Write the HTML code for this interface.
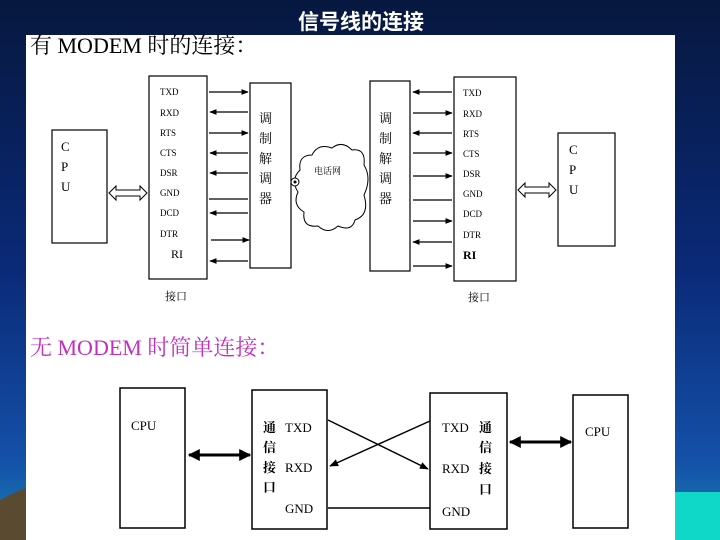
<!DOCTYPE html>
<html><head><meta charset="utf-8"><style>
html,body{margin:0;padding:0;width:720px;height:540px;overflow:hidden}
svg text{font-family:"Liberation Serif","Noto Serif CJK SC",serif;fill:#000}
</style></head><body>
<svg width="720" height="540" viewBox="0 0 720 540" xmlns="http://www.w3.org/2000/svg">
<defs>
<linearGradient id="bg" x1="0" y1="0" x2="0" y2="1">
<stop offset="0" stop-color="#07183f"/><stop offset="0.5" stop-color="#0a2a78"/><stop offset="0.85" stop-color="#1450a8"/><stop offset="1" stop-color="#1a80b0"/></linearGradient>
<marker id="a" viewBox="0 0 10 10" refX="9" refY="5" markerWidth="6" markerHeight="6" orient="auto-start-reverse"><path d="M0,1 L10,5 L0,9 z" fill="#000"/></marker>
<marker id="b" viewBox="0 0 10 10" refX="9" refY="5" markerWidth="4" markerHeight="4" orient="auto-start-reverse"><path d="M0,0 L10,5 L0,10 z" fill="#000"/></marker>
</defs>
<rect width="720" height="540" fill="url(#bg)"/>
<path d="M0,500 Q15,492 26,488 L26,540 L0,540 z" fill="#5a4a30"/>
<rect x="675" y="492" width="45" height="48" fill="#10d8c8"/>
<text x="361" y="29" text-anchor="middle" font-size="21" font-weight="bold" style="fill:#fff;font-family:'Liberation Sans','Noto Sans CJK SC',sans-serif">信号线的连接</text>
<rect x="26" y="35" width="649" height="505" fill="#fff"/>
<text x="30" y="53" font-size="22">有 MODEM 时的连接：</text>
<g fill="none" stroke="#000" stroke-width="1.2">
<rect x="52" y="130" width="55" height="113"/>
<rect x="149" y="76" width="58" height="203"/>
<rect x="250" y="83" width="41" height="185"/>
<rect x="370" y="81" width="40" height="190"/>
<rect x="454" y="77" width="62" height="204"/>
<rect x="558" y="133" width="57" height="113"/>
</g>
<g font-size="9">
<text x="160" y="95">TXD</text><text x="160" y="116">RXD</text><text x="160" y="136">RTS</text><text x="160" y="156">CTS</text><text x="160" y="176">DSR</text><text x="160" y="196">GND</text><text x="160" y="216">DCD</text><text x="160" y="237">DTR</text>
<text x="463" y="96">TXD</text><text x="463" y="117">RXD</text><text x="463" y="137">RTS</text><text x="463" y="157">CTS</text><text x="463" y="177">DSR</text><text x="463" y="197">GND</text><text x="463" y="217">DCD</text><text x="463" y="238">DTR</text>
</g>
<text x="171" y="258" font-size="12">RI</text><text x="463" y="259" font-size="12" font-weight="bold">RI</text>
<g font-size="13"><text x="61" y="151">C</text><text x="61" y="171">P</text><text x="61" y="191">U</text>
<text x="569" y="154">C</text><text x="569" y="174">P</text><text x="569" y="194">U</text></g>
<g font-size="13"><text x="259" y="123">调</text><text x="259" y="143">制</text><text x="259" y="163">解</text><text x="259" y="183">调</text><text x="259" y="203">器</text>
<text x="379" y="123">调</text><text x="379" y="143">制</text><text x="379" y="163">解</text><text x="379" y="183">调</text><text x="379" y="203">器</text></g>
<g stroke="#000" stroke-width="1.2" marker-end="url(#a)">
<line x1="209" y1="92" x2="248" y2="92"/><line x1="248" y1="112" x2="210" y2="112"/><line x1="209" y1="133" x2="248" y2="133"/><line x1="248" y1="153" x2="210" y2="153"/><line x1="248" y1="173" x2="210" y2="173"/><line x1="248" y1="213" x2="210" y2="213"/><line x1="211" y1="240" x2="249" y2="240"/><line x1="248" y1="261" x2="210" y2="261"/>
<line x1="452" y1="92" x2="413" y2="92"/><line x1="413" y1="113" x2="452" y2="113"/><line x1="452" y1="133" x2="413" y2="133"/><line x1="413" y1="153" x2="452" y2="153"/><line x1="413" y1="176" x2="452" y2="176"/><line x1="413" y1="221" x2="452" y2="221"/><line x1="452" y1="242" x2="413" y2="242"/><line x1="413" y1="266" x2="452" y2="266"/>
</g>
<line x1="209" y1="199" x2="248" y2="199" stroke="#000" stroke-width="1.2"/>
<line x1="413" y1="200" x2="452" y2="200" stroke="#000" stroke-width="1.2"/>
<path d="M300,170 Q298,155 312,155 Q318,143 332,148 Q342,140 352,150 Q366,148 364,165 Q372,178 364,195 Q370,215 355,220 Q352,232 338,226 Q328,235 318,226 Q302,228 304,212 Q292,205 298,192 Q290,180 300,170 z" fill="#fff" stroke="#000" stroke-width="1"/>
<circle cx="295" cy="182" r="4" fill="#fff" stroke="#000"/><circle cx="295" cy="182" r="1.5" fill="#000"/>
<text x="314" y="174" font-size="9">电话网</text>
<path d="M109,193 L116,186 L116,190 L140,190 L140,186 L147,193 L140,200 L140,196 L116,196 L116,200 z" fill="#fff" stroke="#000"/>
<path d="M518,190 L525,183 L525,187 L549,187 L549,183 L556,190 L549,197 L549,193 L525,193 L525,197 z" fill="#fff" stroke="#000"/>
<text x="165" y="300" font-size="11">接口</text><text x="468" y="301" font-size="11">接口</text>
<text x="30" y="355" font-size="22" style="fill:#c030c0">无 MODEM 时简单连接：</text>
<g fill="none" stroke="#000" stroke-width="1.5">
<rect x="120" y="388" width="65" height="140"/>
<rect x="252" y="390" width="75" height="139"/>
<rect x="430" y="393" width="77" height="136"/>
<rect x="573" y="395" width="55" height="133"/>
</g>
<g font-size="13">
<text x="131" y="430">CPU</text><text x="585" y="436">CPU</text>
<text x="263" y="432" font-weight="bold">通</text><text x="285" y="432">TXD</text>
<text x="263" y="452" font-weight="bold">信</text>
<text x="263" y="472" font-weight="bold">接</text><text x="285" y="472">RXD</text>
<text x="263" y="492" font-weight="bold">口</text>
<text x="285" y="513">GND</text>
<text x="442" y="432">TXD</text><text x="479" y="432" font-weight="bold">通</text>
<text x="479" y="452" font-weight="bold">信</text>
<text x="442" y="473">RXD</text><text x="479" y="473" font-weight="bold">接</text>
<text x="479" y="494" font-weight="bold">口</text>
<text x="442" y="516">GND</text>
</g>
<g stroke="#000" stroke-width="3" marker-start="url(#b)" marker-end="url(#b)">
<line x1="189" y1="455" x2="250" y2="455"/><line x1="510" y1="442" x2="571" y2="442"/>
</g>
<g stroke="#000" stroke-width="1.5" marker-end="url(#a)">
<line x1="328" y1="420" x2="428" y2="469"/><line x1="430" y1="421" x2="330" y2="466"/>
</g>
<line x1="328" y1="508" x2="430" y2="508" stroke="#000" stroke-width="1.5"/>
</svg>
</body></html>
